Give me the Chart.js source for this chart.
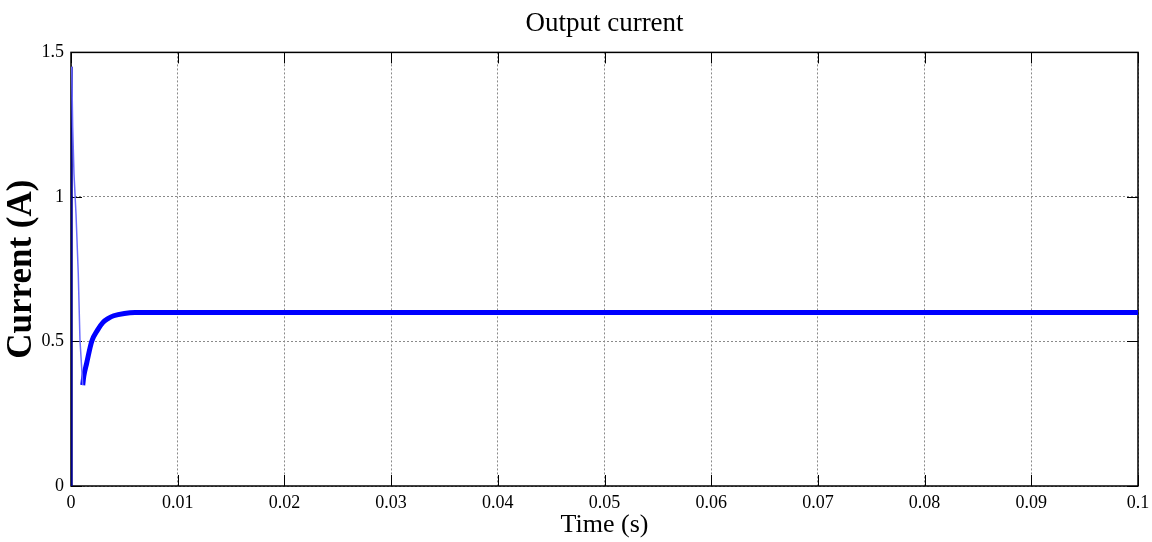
<!DOCTYPE html>
<html>
<head>
<meta charset="utf-8">
<script src="https://cdn.jsdelivr.net/npm/chart.js@4.4.0/dist/chart.umd.min.js"></script>
<style>
  html, body { margin: 0; padding: 0; background: #fff; }
  #wrap { width: 1152px; height: 542px; }
</style>
</head>
<body>
<div id="wrap"><canvas id="c" width="1152" height="542"></canvas></div>
<script>
// start-up spike (thin trace)
const spikeTime = [0, 0.00005, 0.00007, 0.00016, 0.00028, 0.00047, 0.00068, 0.00084, 0.0011];
const spikeCurrent = [0, 1.45, 1.449, 1.24, 1.08, 0.94, 0.736, 0.505, 0.349];

// recovery and steady state (thick ripple band)
const settleTime = [0.0011, 0.0012, 0.00147, 0.00194, 0.0025, 0.003, 0.0035, 0.004, 0.005, 0.006, 0.1];
const settleCurrent = [0.349, 0.38, 0.425, 0.5, 0.54, 0.566, 0.58, 0.589, 0.597, 0.6, 0.6];

const xTicks = [0, 0.01, 0.02, 0.03, 0.04, 0.05, 0.06, 0.07, 0.08, 0.09, 0.1];
const xTickLabels = ['0', '0.01', '0.02', '0.03', '0.04', '0.05', '0.06', '0.07', '0.08', '0.09', '0.1'];
const yTicks = [0, 0.5, 1, 1.5];
const yTickLabels = ['0', '0.5', '1', '1.5'];

const serif = '"Liberation Serif", "Times New Roman", serif';

function pts(xs, ys) {
  return xs.map((x, i) => ({ x: x, y: ys[i] }));
}

// black frame + inward ticks, matlab style
const frame = {
  id: 'frame',
  beforeDatasetsDraw(chart) {
    const { ctx, chartArea: a, scales } = chart;
    const len = 11;
    ctx.save();
    ctx.strokeStyle = '#000';
    ctx.lineWidth = 1;
    ctx.beginPath();
    xTicks.forEach(v => {
      const px = Math.round(scales.x.getPixelForValue(v)) + 0.5;
      ctx.moveTo(px, a.bottom); ctx.lineTo(px, a.bottom - len);
      ctx.moveTo(px, a.top); ctx.lineTo(px, a.top + len);
    });
    yTicks.forEach(v => {
      const py = Math.round(scales.y.getPixelForValue(v)) + 0.5;
      ctx.moveTo(a.left, py); ctx.lineTo(a.left + len, py);
      ctx.moveTo(a.right, py); ctx.lineTo(a.right - len, py);
    });
    ctx.stroke();
    ctx.lineWidth = 1.5;
    ctx.strokeRect(a.left, a.top, a.right - a.left, a.bottom - a.top);
    ctx.restore();
  }
};

new Chart(document.getElementById('c'), {
  type: 'line',
  data: {
    datasets: [{
      data: pts(spikeTime, spikeCurrent),
      borderColor: '#6b6bff',
      borderWidth: 1.5,
      pointRadius: 0,
      tension: 0,
      segment: {
        borderColor: c => c.p0DataIndex === 0 ? '#00008b' : undefined,
        borderWidth: c => c.p0DataIndex === 0 ? 2.5 : undefined
      }
    }, {
      data: pts(settleTime, settleCurrent),
      borderColor: '#0000ff',
      borderWidth: 5,
      pointRadius: 0,
      cubicInterpolationMode: 'monotone'
    }]
  },
  options: {
    responsive: false,
    animation: false,
    devicePixelRatio: 1,
    layout: { padding: { left: 0, right: 14, top: 0, bottom: 0 } },
    plugins: {
      legend: { display: false },
      tooltip: { enabled: false },
      title: {
        display: true,
        text: 'Output current',
        fullSize: false,
        color: '#000',
        font: { family: serif, size: 27, weight: 'normal', lineHeight: 1.2 },
        padding: { top: 8, bottom: 12 }
      }
    },
    scales: {
      x: {
        type: 'linear',
        min: 0,
        max: 0.1,
        afterBuildTicks: s => { s.ticks = xTicks.map(v => ({ value: v })); },
        afterFit: s => { s.height = 56; s.paddingLeft = 0; s.paddingRight = 0; },
        ticks: {
          color: '#000',
          font: { family: serif, size: 18 },
          padding: 6,
          maxRotation: 0,
          autoSkip: false,
          callback: (v, i) => xTickLabels[i]
        },
        grid: { color: '#8a8a8a', drawTicks: false },
        border: { display: false, dash: [2, 2] },
        title: {
          display: true,
          text: 'Time (s)',
          color: '#000',
          font: { family: serif, size: 26, lineHeight: 1.0 },
          padding: { top: 0, bottom: 4 }
        }
      },
      y: {
        type: 'linear',
        min: 0,
        max: 1.5,
        afterBuildTicks: s => { s.ticks = yTicks.map(v => ({ value: v })); },
        afterFit: s => { s.width = 71; s.paddingTop = 0; s.paddingBottom = 0; },
        ticks: {
          color: '#000',
          font: { family: serif, size: 18 },
          padding: 7,
          callback: (v, i) => yTickLabels[i]
        },
        grid: { color: '#8a8a8a', drawTicks: false },
        border: { display: false, dash: [2, 2] },
        title: {
          display: true,
          text: 'Current (A)',
          color: '#000',
          font: { family: serif, size: 35, weight: 'bold', lineHeight: 1.0 },
          padding: { top: 4, bottom: 0 }
        }
      }
    }
  },
  plugins: [frame]
});
</script>
</body>
</html>
